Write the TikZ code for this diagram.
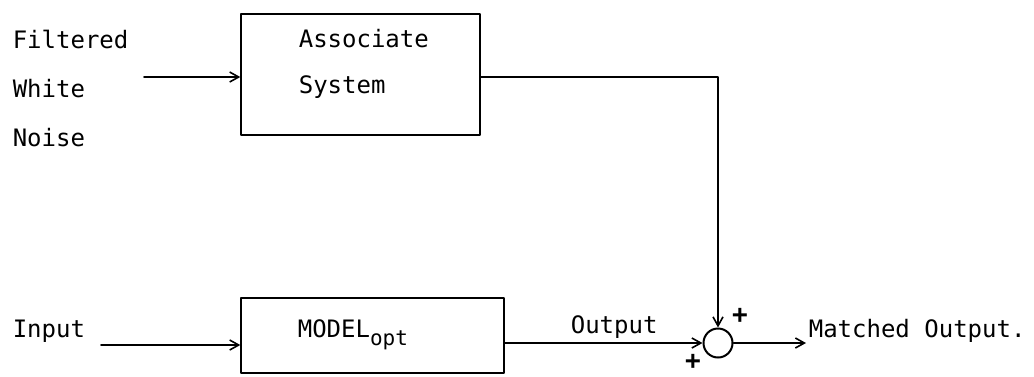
\documentclass[tikz,border=0pt]{standalone}
\usepackage{fontspec}
\setmonofont{DejaVu Sans Mono}
\usetikzlibrary{arrows.meta}

\begin{document}
\begin{tikzpicture}[x=0.5pt, y=-0.5pt, line width=0.8pt, line cap=round, line join=round,
  every node/.style={font=\ttfamily\fontsize{12}{14}\selectfont, inner sep=0pt},
  blockbox/.style={draw, rectangle, line width=0.7pt},
  sumnode/.style={draw, circle, minimum size=14.5pt, line width=1pt},
  sig/.style={-{Straight Barb[length=4.5pt, width=5pt]}},
  signbox/.style={font=\ttfamily\bfseries\fontsize{13}{13}\selectfont},
  lbl/.style={anchor=base west}]
  \useasboundingbox (0,0) rectangle (1034,376);

  % ============ Upper branch: associate system ============
  \node[blockbox, minimum width=119.5pt, minimum height=60.5pt] (assoc) at (360.5,74.5) {};
  \node[lbl] (assoctop) at (298,47) {Associate};
  \node[lbl] (assocbot) at (298,93) {System};

  \node[lbl] (noiseA) at (12,48) {Filtered};
  \node[lbl] (noiseB) at (12,97) {White};
  \node[lbl] (noiseC) at (12,146) {Noise};

  \coordinate (noisein) at (144,77);
  \draw[sig] (noisein) -- (noisein -| assoc.west);

  % ============ Lower branch: optimal model ============
  \node[blockbox, minimum width=131.5pt, minimum height=37.5pt] (model) at (372.5,335.5) {};
  \node[lbl] (modeltext) at (297,337) {MODEL\raisebox{-4pt}{\fontsize{10.5}{12}\selectfont opt}};

  \node[lbl] (input) at (12,337) {Input};
  \coordinate (inputin) at (101,345);
  \draw[sig] (inputin) -- (inputin -| model.west);

  % ============ Summing junction ============
  \node[sumnode] (sum) at (718,343) {};
  \draw[sig] (assoc.east |- noisein) -| (sum.north);
  \draw[sig] (model.east |- sum) -- (sum.west);
  \node[lbl] (outlbl) at (570,333) {Output};

  \node[signbox] (plusA) at (740,316) {+};
  \node[signbox] (plusB) at (693,362) {+};

  \coordinate (matchout) at (806,343);
  \draw[sig] (sum.east) -- (matchout);
  \node[lbl] (matched) at (808,337) {Matched Output.};

\end{tikzpicture}
\end{document}
